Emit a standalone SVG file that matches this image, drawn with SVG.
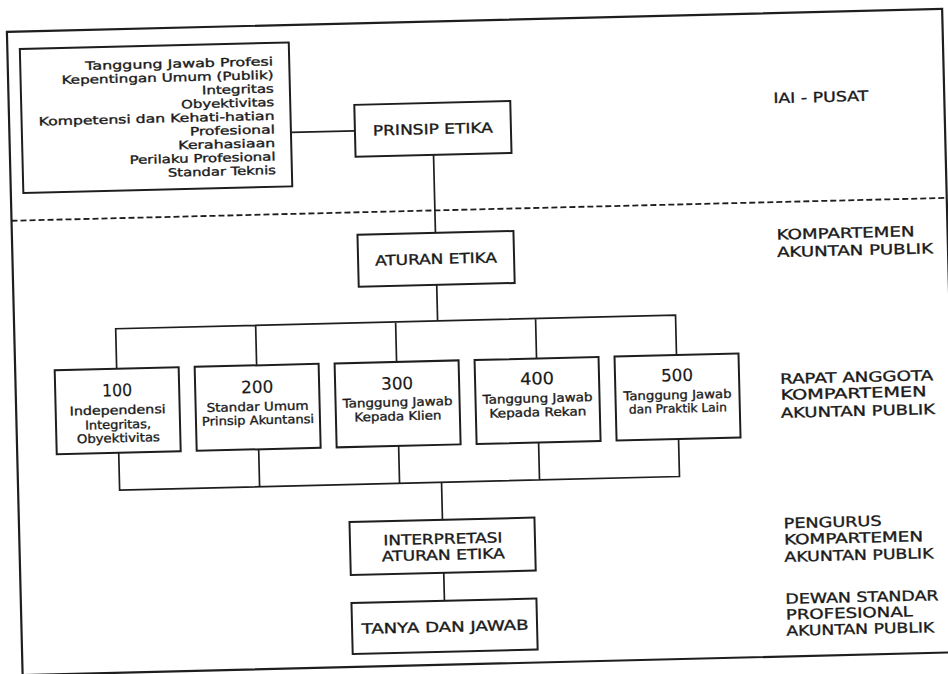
<svg xmlns="http://www.w3.org/2000/svg" width="948" height="674" viewBox="0 0 948 674">
  <style>
    .frame { fill: none; stroke: #1e1e1e; stroke-width: 2.2; }
    .box { fill: #ffffff; stroke: #1e1e1e; stroke-width: 2; }
    .wire { fill: none; stroke: #1e1e1e; stroke-width: 1.7; }
    .dash { stroke-dasharray: 6 3; stroke-width: 1.8; }
    text { font-family: "DejaVu Sans", "Liberation Sans", sans-serif; fill: #1a1a1a; stroke: #1a1a1a; stroke-width: 0.35; }
    .t-list { font-size: 11.5px; text-anchor: end; }
    .t-num { font-size: 17px; text-anchor: middle; stroke-width: 0.2; }
    .t-small { font-size: 12px; text-anchor: middle; }
    .t-cap { font-size: 14px; text-anchor: middle; }
    .t-side { font-size: 14px; }
  </style>

  <rect width="948" height="674" fill="#ffffff"/>

  <!-- whole sheet is laid out straight, then tilted slightly -->
  <g transform="rotate(-1.4 474 337)">
    <!-- outer frame and level separator -->
    <rect class="frame" x="14.5" y="20.5" width="935.5" height="643.5"/>
    <path class="wire dash" d="M14.5 209.5 H950"/>

    <!-- connectors -->
    <g id="connectors">
      <path class="wire" d="M296 128 H360"/>
      <path class="wire" d="M438 154 V232"/>
      <path class="wire" d="M438 284 V320"/>
      <path class="wire" d="M116 360 V320 H676 V360 M256 320 V360 M396 320 V360 M536 320 V360"/>
      <path class="wire" d="M116 444 V481.5 H676 V444 M256 444 V481.5 M396 444 V481.5 M536 444 V481.5"/>
      <path class="wire" d="M438 481.5 V519"/>
      <path class="wire" d="M438 572 V600"/>
    </g>

    <!-- list of principles -->
    <g id="daftar-prinsip">
      <rect class="box" x="27" y="38" width="269" height="144"/>
      <text class="t-list" x="280" y="60.5" textLength="188" lengthAdjust="spacingAndGlyphs">Tanggung Jawab Profesi</text>
      <text class="t-list" x="280" y="74.1" textLength="212" lengthAdjust="spacingAndGlyphs">Kepentingan Umum (Publik)</text>
      <text class="t-list" x="280" y="87.7" textLength="72" lengthAdjust="spacingAndGlyphs">Integritas</text>
      <text class="t-list" x="280" y="101.3" textLength="93" lengthAdjust="spacingAndGlyphs">Obyektivitas</text>
      <text class="t-list" x="280" y="114.9" textLength="236" lengthAdjust="spacingAndGlyphs">Kompetensi dan Kehati-hatian</text>
      <text class="t-list" x="280" y="128.5" textLength="85" lengthAdjust="spacingAndGlyphs">Profesional</text>
      <text class="t-list" x="280" y="142.1" textLength="97" lengthAdjust="spacingAndGlyphs">Kerahasiaan</text>
      <text class="t-list" x="280" y="155.7" textLength="146" lengthAdjust="spacingAndGlyphs">Perilaku Profesional</text>
      <text class="t-list" x="280" y="169.3" textLength="108" lengthAdjust="spacingAndGlyphs">Standar Teknis</text>
    </g>

    <g id="prinsip-etika">
      <rect class="box" x="360" y="102" width="156" height="52"/>
      <text class="t-cap" x="438" y="133" textLength="120" lengthAdjust="spacingAndGlyphs">PRINSIP ETIKA</text>
    </g>

    <g id="aturan-etika">
      <rect class="box" x="360" y="232" width="156" height="52"/>
      <text class="t-cap" x="438" y="263" textLength="122" lengthAdjust="spacingAndGlyphs">ATURAN ETIKA</text>
    </g>

    <g id="aturan-100">
      <rect class="box" x="54" y="360" width="124" height="84"/>
      <text class="t-num" x="116" y="387.5" textLength="30" lengthAdjust="spacingAndGlyphs">100</text>
      <text class="t-small" x="116" y="405.5" textLength="96" lengthAdjust="spacingAndGlyphs">Independensi</text>
      <text class="t-small" x="116" y="420" textLength="66" lengthAdjust="spacingAndGlyphs">Integritas,</text>
      <text class="t-small" x="116" y="433.5" textLength="83" lengthAdjust="spacingAndGlyphs">Obyektivitas</text>
    </g>

    <g id="aturan-200">
      <rect class="box" x="194" y="360" width="124" height="84"/>
      <text class="t-num" x="256" y="387.5" textLength="32" lengthAdjust="spacingAndGlyphs">200</text>
      <text class="t-small" x="256" y="405.5" textLength="102" lengthAdjust="spacingAndGlyphs">Standar Umum</text>
      <text class="t-small" x="256" y="419" textLength="112" lengthAdjust="spacingAndGlyphs">Prinsip Akuntansi</text>
    </g>

    <g id="aturan-300">
      <rect class="box" x="334" y="360" width="124" height="84"/>
      <text class="t-num" x="396" y="387.5" textLength="32" lengthAdjust="spacingAndGlyphs">300</text>
      <text class="t-small" x="396" y="404.5" textLength="110" lengthAdjust="spacingAndGlyphs">Tanggung Jawab</text>
      <text class="t-small" x="396" y="418.5" textLength="87" lengthAdjust="spacingAndGlyphs">Kepada Klien</text>
    </g>

    <g id="aturan-400">
      <rect class="box" x="474" y="360" width="124" height="84"/>
      <text class="t-num" x="536" y="386" textLength="34" lengthAdjust="spacingAndGlyphs">400</text>
      <text class="t-small" x="536" y="404" textLength="110" lengthAdjust="spacingAndGlyphs">Tanggung Jawab</text>
      <text class="t-small" x="536" y="418" textLength="97" lengthAdjust="spacingAndGlyphs">Kepada Rekan</text>
    </g>

    <g id="aturan-500">
      <rect class="box" x="614" y="360" width="124" height="84"/>
      <text class="t-num" x="676" y="386" textLength="32" lengthAdjust="spacingAndGlyphs">500</text>
      <text class="t-small" x="676" y="404" textLength="108" lengthAdjust="spacingAndGlyphs">Tanggung Jawab</text>
      <text class="t-small" x="676" y="417.5" textLength="98" lengthAdjust="spacingAndGlyphs">dan Praktik Lain</text>
    </g>

    <g id="interpretasi">
      <rect class="box" x="345" y="519" width="185" height="53"/>
      <text class="t-cap" x="438" y="543" textLength="119" lengthAdjust="spacingAndGlyphs">INTERPRETASI</text>
      <text class="t-cap" x="438" y="559" textLength="123" lengthAdjust="spacingAndGlyphs">ATURAN ETIKA</text>
    </g>

    <g id="tanya-jawab">
      <rect class="box" x="345" y="600" width="185" height="51"/>
      <text class="t-cap" x="438" y="631" textLength="167" lengthAdjust="spacingAndGlyphs">TANYA DAN JAWAB</text>
    </g>

    <!-- issuing bodies for each level -->
    <g id="label-iai">
      <text class="t-side" x="779" y="110.5" textLength="95" lengthAdjust="spacingAndGlyphs">IAI - PUSAT</text>
    </g>
    <g id="label-kompartemen">
      <text class="t-side" x="779" y="247" textLength="138" lengthAdjust="spacingAndGlyphs">KOMPARTEMEN</text>
      <text class="t-side" x="779" y="264.5" textLength="156" lengthAdjust="spacingAndGlyphs">AKUNTAN PUBLIK</text>
    </g>
    <g id="label-rapat">
      <text class="t-side" x="779" y="391.3" textLength="153" lengthAdjust="spacingAndGlyphs">RAPAT ANGGOTA</text>
      <text class="t-side" x="779" y="407.3" textLength="146" lengthAdjust="spacingAndGlyphs">KOMPARTEMEN</text>
      <text class="t-side" x="779" y="425.3" textLength="154" lengthAdjust="spacingAndGlyphs">AKUNTAN PUBLIK</text>
    </g>
    <g id="label-pengurus">
      <text class="t-side" x="779" y="535.7" textLength="98" lengthAdjust="spacingAndGlyphs">PENGURUS</text>
      <text class="t-side" x="779" y="552" textLength="139" lengthAdjust="spacingAndGlyphs">KOMPARTEMEN</text>
      <text class="t-side" x="779" y="569.3" textLength="149" lengthAdjust="spacingAndGlyphs">AKUNTAN PUBLIK</text>
    </g>
    <g id="label-dewan">
      <text class="t-side" x="779" y="611.4" textLength="153" lengthAdjust="spacingAndGlyphs">DEWAN STANDAR</text>
      <text class="t-side" x="779" y="627" textLength="127" lengthAdjust="spacingAndGlyphs">PROFESIONAL</text>
      <text class="t-side" x="779" y="643.3" textLength="148" lengthAdjust="spacingAndGlyphs">AKUNTAN PUBLIK</text>
    </g>
  </g>
</svg>
